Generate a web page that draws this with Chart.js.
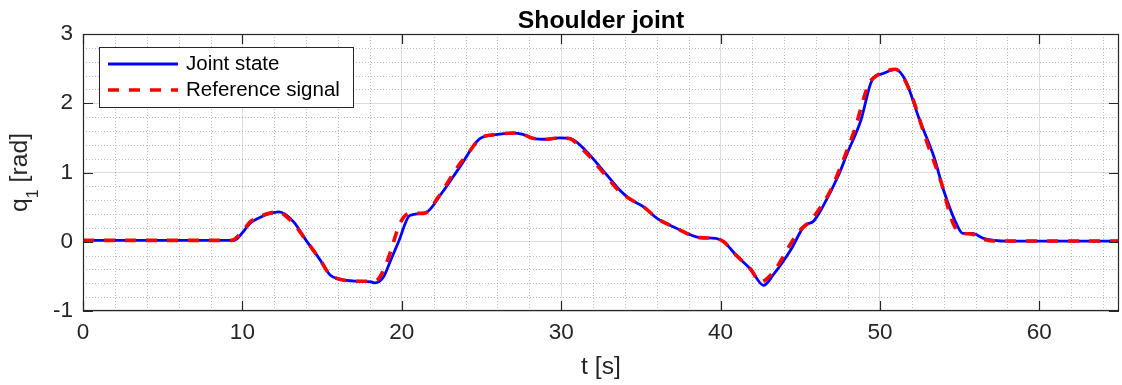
<!DOCTYPE html>
<html>
<head>
<meta charset="utf-8">
<script src="https://cdn.jsdelivr.net/npm/chart.js@4.4.1/dist/chart.umd.min.js"></script>
<style>
  html, body { margin: 0; padding: 0; background: #fff; }
  canvas { display: block; }
</style>
</head>
<body>
<canvas id="chart" width="1122" height="385"></canvas>
<script>
// Shoulder joint angle q1 over time: measured joint state vs. reference signal
const timeJoint = [0, 9.5, 10.0, 10.5, 11.0, 11.5, 12.3, 13.2, 14.0, 14.9, 15.5, 16.1, 17.2, 18.1, 18.3, 18.85, 19.3, 19.8, 20.5, 21.5, 22.5, 23.7, 24.9, 26.0, 27.0, 27.6, 28.3, 29.1, 29.9, 30.6, 31.6, 32.7, 33.7, 34.3, 35.2, 36.0, 37.1, 38.7, 39.7, 40.2, 41.0, 41.9, 42.7, 43.3, 44.4, 45.3, 45.8, 46.4, 47.4, 47.9, 48.8, 49.5, 50.2, 50.97, 51.6, 52.5, 53.4, 54.0, 54.9, 55.2, 55.8, 56.5, 58.0, 65];
const jointState = [0.02, 0.02, 0.13, 0.27, 0.34, 0.39, 0.43, 0.29, 0.02, -0.27, -0.48, -0.54, -0.57, -0.58, -0.595, -0.51, -0.27, 0.0, 0.38, 0.42, 0.70, 1.10, 1.49, 1.55, 1.57, 1.55, 1.49, 1.48, 1.50, 1.49, 1.30, 1.01, 0.74, 0.62, 0.50, 0.34, 0.21, 0.06, 0.05, 0.0, -0.20, -0.40, -0.63, -0.48, -0.12, 0.24, 0.29, 0.50, 0.96, 1.25, 1.75, 2.33, 2.43, 2.49, 2.33, 1.75, 1.22, 0.74, 0.21, 0.12, 0.12, 0.05, 0.01, 0.01];

const timeRef = [0, 9.3, 10.0, 10.5, 11.0, 11.5, 12.2, 13.1, 14.0, 14.9, 15.5, 16.1, 17.2, 18.0, 18.4, 19.1, 19.9, 20.5, 21.4, 22.3, 23.5, 24.3, 24.9, 26.0, 27.0, 27.6, 28.3, 29.1, 29.9, 30.5, 31.5, 32.6, 33.6, 34.3, 35.2, 36.0, 37.1, 38.7, 39.7, 40.2, 41.0, 41.9, 42.5, 43.3, 44.0, 44.4, 45.0, 45.6, 46.5, 46.9, 47.7, 48.4, 49.3, 49.8, 50.6, 50.97, 51.5, 52.1, 52.9, 53.8, 54.6, 55.1, 55.8, 56.3, 57.3, 65];
const referenceSignal = [0.02, 0.02, 0.15, 0.29, 0.35, 0.40, 0.43, 0.29, 0.02, -0.27, -0.48, -0.54, -0.57, -0.57, -0.56, -0.27, 0.27, 0.41, 0.41, 0.65, 1.08, 1.32, 1.49, 1.55, 1.57, 1.55, 1.49, 1.48, 1.50, 1.49, 1.30, 1.01, 0.74, 0.62, 0.50, 0.34, 0.21, 0.06, 0.05, 0.0, -0.20, -0.40, -0.58, -0.44, -0.19, -0.03, 0.17, 0.29, 0.58, 0.74, 1.18, 1.61, 2.28, 2.40, 2.48, 2.49, 2.36, 2.04, 1.47, 0.89, 0.26, 0.13, 0.11, 0.05, 0.01, 0.01];

const xTicks = [0, 10, 20, 30, 40, 50, 60];
const yTicks = [-1, 0, 1, 2, 3];
const xRange = [0, 65];
const yRange = [-1, 3];
const xMinorStep = 2;
const yMinorStep = 0.2;

const chartTitle = 'Shoulder joint';
const xLabel = 't [s]';
const yLabelMain = 'q';
const yLabelSub = '1';
const yLabelUnit = ' [rad]';

const FONT = "'Liberation Sans', Arial, Helvetica, sans-serif";
const AXIS_COLOR = '#262626';

const toPoints = (ts, vs) => ts.map((t, i) => ({ x: t, y: vs[i] }));

// minor grid, axis box with inward ticks, title, y label and legend
const decorations = {
  id: 'decorations',
  beforeDatasetsDraw(chart) {
    const { ctx, chartArea: a, scales: { x, y } } = chart;
    ctx.save();
    ctx.strokeStyle = 'rgba(38,38,38,0.3)';
    ctx.lineWidth = 1;
    ctx.setLineDash([1, 2]);
    ctx.beginPath();
    const nx = Math.round((xRange[1] - xRange[0]) / xMinorStep);
    for (let i = 1; i <= nx; i++) {
      const v = xRange[0] + i * xMinorStep;
      if (xTicks.includes(v) || v >= xRange[1]) continue;
      const px = Math.round(x.getPixelForValue(v)) + 0.5;
      ctx.moveTo(px, a.top); ctx.lineTo(px, a.bottom);
    }
    const ny = Math.round((yRange[1] - yRange[0]) / yMinorStep);
    for (let i = 1; i < ny; i++) {
      const v = +(yRange[0] + i * yMinorStep).toFixed(3);
      if (yTicks.includes(v)) continue;
      const py = Math.round(y.getPixelForValue(v)) + 0.5;
      ctx.moveTo(a.left, py); ctx.lineTo(a.right, py);
    }
    ctx.stroke();
    ctx.restore();
  },
  afterDatasetsDraw(chart) {
    const { ctx, chartArea: a, scales: { x, y } } = chart;
    ctx.save();
    ctx.setLineDash([]);
    ctx.strokeStyle = AXIS_COLOR;
    ctx.lineWidth = 1.2;
    ctx.strokeRect(a.left + 0.5, a.top + 0.5, a.right - a.left - 1, a.bottom - a.top - 1);
    const tl = 10;
    ctx.beginPath();
    xTicks.forEach(v => {
      const px = Math.round(x.getPixelForValue(v)) + 0.5;
      ctx.moveTo(px, a.bottom); ctx.lineTo(px, a.bottom - tl);
      ctx.moveTo(px, a.top); ctx.lineTo(px, a.top + tl);
    });
    yTicks.forEach(v => {
      const py = Math.round(y.getPixelForValue(v)) + 0.5;
      ctx.moveTo(a.left, py); ctx.lineTo(a.left + tl, py);
      ctx.moveTo(a.right, py); ctx.lineTo(a.right - tl, py);
    });
    ctx.stroke();
    ctx.restore();
  },
  afterDraw(chart) {
    const { ctx, chartArea: a } = chart;
    ctx.save();

    // title
    ctx.fillStyle = '#000';
    ctx.font = `bold 24.75px ${FONT}`;
    ctx.textAlign = 'center';
    ctx.textBaseline = 'alphabetic';
    ctx.fillText(chartTitle, (a.left + a.right) / 2, 28);

    // y-axis label with subscript
    const mainFont = `24.75px ${FONT}`;
    const subFont = `16px ${FONT}`;
    ctx.font = mainFont;
    const wq = ctx.measureText(yLabelMain).width;
    const wu = ctx.measureText(yLabelUnit).width;
    ctx.font = subFont;
    const ws = ctx.measureText(yLabelSub).width;
    const total = wq + ws + wu;
    ctx.translate(27, (a.top + a.bottom) / 2);
    ctx.rotate(-Math.PI / 2);
    ctx.fillStyle = AXIS_COLOR;
    ctx.textAlign = 'left';
    let cx = -total / 2;
    ctx.font = mainFont; ctx.fillText(yLabelMain, cx, 0); cx += wq;
    ctx.font = subFont; ctx.fillText(yLabelSub, cx, 11); cx += ws;
    ctx.font = mainFont; ctx.fillText(yLabelUnit, cx, 0);
    ctx.setTransform(1, 0, 0, 1, 0, 0);

    // legend
    const bx = a.left + 16, by = a.top + 13, bw = 254, bh = 60;
    ctx.fillStyle = '#fff';
    ctx.fillRect(bx, by, bw, bh);
    ctx.strokeStyle = AXIS_COLOR;
    ctx.lineWidth = 1;
    ctx.strokeRect(bx + 0.5, by + 0.5, bw, bh);
    ctx.font = `20.5px ${FONT}`;
    ctx.textBaseline = 'middle';
    ctx.textAlign = 'left';
    const rows = [by + 17, by + 43];
    chart.data.datasets.forEach((ds, i) => {
      const ry = rows[i];
      ctx.beginPath();
      ctx.strokeStyle = ds.borderColor;
      ctx.lineWidth = ds.borderWidth;
      ctx.setLineDash(ds.borderDash || []);
      ctx.moveTo(bx + 9, ry); ctx.lineTo(bx + 79, ry);
      ctx.stroke();
      ctx.setLineDash([]);
      ctx.fillStyle = '#000';
      ctx.fillText(ds.label, bx + 87, ry);
    });
    ctx.restore();
  }
};

new Chart(document.getElementById('chart'), {
  type: 'line',
  data: {
    datasets: [
      {
        label: 'Joint state',
        data: toPoints(timeJoint, jointState),
        borderColor: '#0000ff',
        borderWidth: 2.8,
        pointRadius: 0,
        cubicInterpolationMode: 'monotone',
        fill: false,
        order: 1
      },
      {
        label: 'Reference signal',
        data: toPoints(timeRef, referenceSignal),
        borderColor: '#ff0000',
        borderWidth: 3.6,
        borderDash: [11, 10],
        pointRadius: 0,
        cubicInterpolationMode: 'monotone',
        fill: false,
        order: 0
      }
    ]
  },
  options: {
    responsive: false,
    animation: false,
    devicePixelRatio: 1,
    layout: { padding: { top: 34, right: 3, bottom: 0, left: 0 } },
    plugins: { legend: { display: false }, title: { display: false }, tooltip: { enabled: false } },
    scales: {
      x: {
        type: 'linear',
        min: xRange[0],
        max: xRange[1],
        afterBuildTicks: s => { s.ticks = xTicks.map(v => ({ value: v })); },
        afterFit: s => { s.height = 74; },
        ticks: { font: { family: FONT, size: 22.5 }, color: AXIS_COLOR, padding: 8, maxRotation: 0, autoSkip: false },
        grid: { color: '#dcdcdc', lineWidth: 1, drawTicks: false },
        border: { display: false },
        title: { display: true, text: xLabel, font: { family: FONT, size: 24.75 }, color: AXIS_COLOR, padding: { top: 0, bottom: 3 } }
      },
      y: {
        type: 'linear',
        min: yRange[0],
        max: yRange[1],
        afterBuildTicks: s => { s.ticks = yTicks.map(v => ({ value: v })); },
        afterFit: s => { s.width = 83; },
        ticks: { font: { family: FONT, size: 22.5 }, color: AXIS_COLOR, padding: 10 },
        grid: { color: '#dcdcdc', lineWidth: 1, drawTicks: false },
        border: { display: false }
      }
    }
  },
  plugins: [decorations]
});
</script>
</body>
</html>
